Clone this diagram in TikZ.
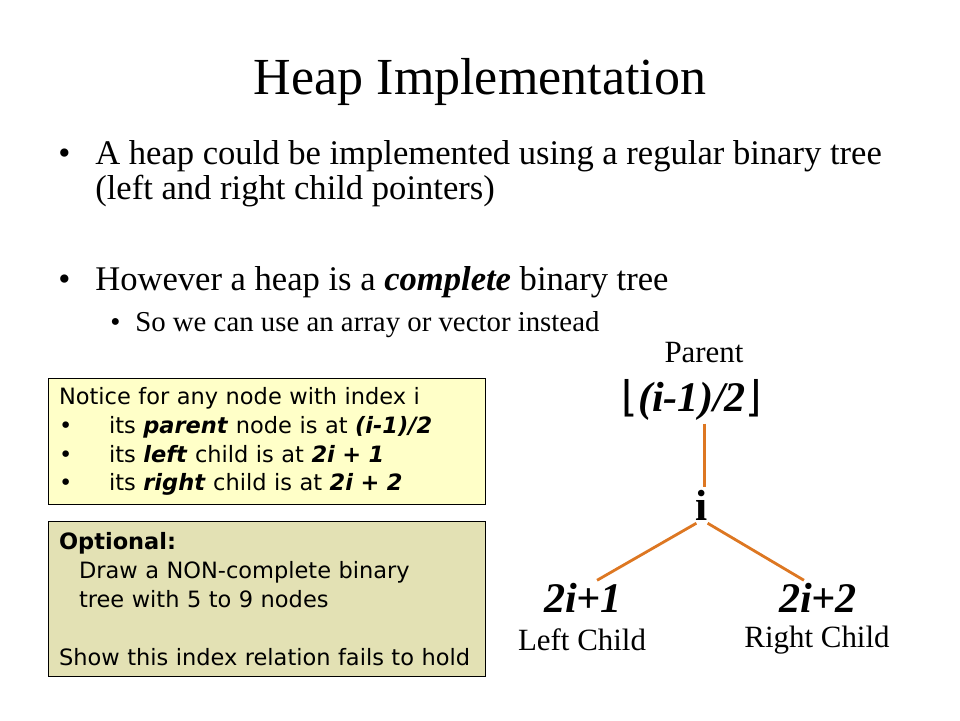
\documentclass[tikz,border=0pt]{standalone}
\usepackage{fontspec}
\setmainfont{Liberation Serif}
\newfontfamily\notefont{DejaVu Sans}
\newfontfamily\brfont{DejaVu Sans}
\usetikzlibrary{positioning}

\definecolor{notefill}{RGB}{255,255,200}
\definecolor{optfill}{RGB}{227,225,180}
\definecolor{edgecol}{RGB}{221,119,34}

\tikzset{
  line/.style={anchor=base west, inner sep=0pt},
  infobox/.style={draw=black, thick, anchor=north west, align=left,
    text width=10.4cm, inner xsep=0.25cm, minimum width=10.925cm,
    font=\notefont\fontsize{16}{20.5}\selectfont},
  treelbl/.style={inner sep=2pt, font=\fontsize{22}{24}\selectfont},
  treekey/.style={inner sep=2pt, font=\fontsize{30}{32}\selectfont\bfseries\itshape},
  edge/.style={draw=edgecol, line width=2pt}
}

\begin{document}
\begin{tikzpicture}

\useasboundingbox (0,0) rectangle (24,18);

% title
\node (title) at (12,15.95) {\fontsize{37}{40}\selectfont Heap Implementation};

% bullets
\node [line] (b1) at (1.45,13.9) {\fontsize{24.6}{28}\selectfont\textbullet};
\node [line] (t1) at (2.375,13.9) {\fontsize{24.6}{28}\selectfont A heap could be implemented using a regular binary tree};
\node [line] (t1b) at (2.375,13.025) {\fontsize{24.6}{28}\selectfont (left and right child pointers)};

\node [line] (b2) at (1.45,10.75) {\fontsize{24.6}{28}\selectfont\textbullet};
\node [line] (t2) at (2.375,10.75) {\fontsize{24.6}{28}\selectfont However a heap is a \textbf{\textit{complete}} binary tree};

\node [line] (b3) at (2.75,9.725) {\fontsize{20.5}{22}\selectfont\textbullet};
\node [line] (t3) at (3.375,9.725) {\fontsize{20.5}{22}\selectfont So we can use an array or vector instead};

% boxes
\node [infobox, fill=notefill, minimum height=3.15cm] (notebox) at (1.2,8.55)
  {Notice for any node with index i\\
   \makebox[1.25cm][l]{\textbullet}its \textbf{\textit{parent}} node is at \textbf{\textit{(i-1)/2}}\\
   \makebox[1.25cm][l]{\textbullet}its \textbf{\textit{left}} child is at \textbf{\textit{2i + 1}}\\
   \makebox[1.25cm][l]{\textbullet}its \textbf{\textit{right}} child is at \textbf{\textit{2i + 2}}};

\node [infobox, fill=optfill, minimum height=3.875cm] (optbox) at (1.2,4.975)
  {\textbf{Optional:}\\
   \hspace*{0.5cm}Draw a NON-complete binary\\
   \hspace*{0.5cm}tree with 5 to 9 nodes\\[20.5pt]
   Show this index relation fails to hold};

% tree
\node [treelbl] (parent) at (17.6,9.175) {Parent};
\node [treekey] (floor) at (17.3,8.0) {{\brfont\mdseries\upshape ⌊}(i-1)/2{\brfont\mdseries\upshape ⌋}};
\node [treekey, font=\fontsize{31}{32}\selectfont\bfseries] (inode) at (17.55,5.375) {i};
\node [treekey] (left) at (14.575,3.05) {2i+1};
\node [treelbl] (leftlbl) at (14.55,2.0) {Left Child};
\node [treekey] (right) at (20.45,3.05) {2i+2};
\node [treelbl] (rightlbl) at (20.425,2.0) {Right Child};

\draw [edge] ([xshift=1.5pt]inode.north |- floor.south) -- ([xshift=1.5pt]inode.north);
\draw [edge] ([xshift=-4pt]inode.south) -- ([xshift=10pt]left.north);
\draw [edge] ([xshift=4pt]inode.south) -- ([xshift=-10pt]right.north);

\end{tikzpicture}
\end{document}
